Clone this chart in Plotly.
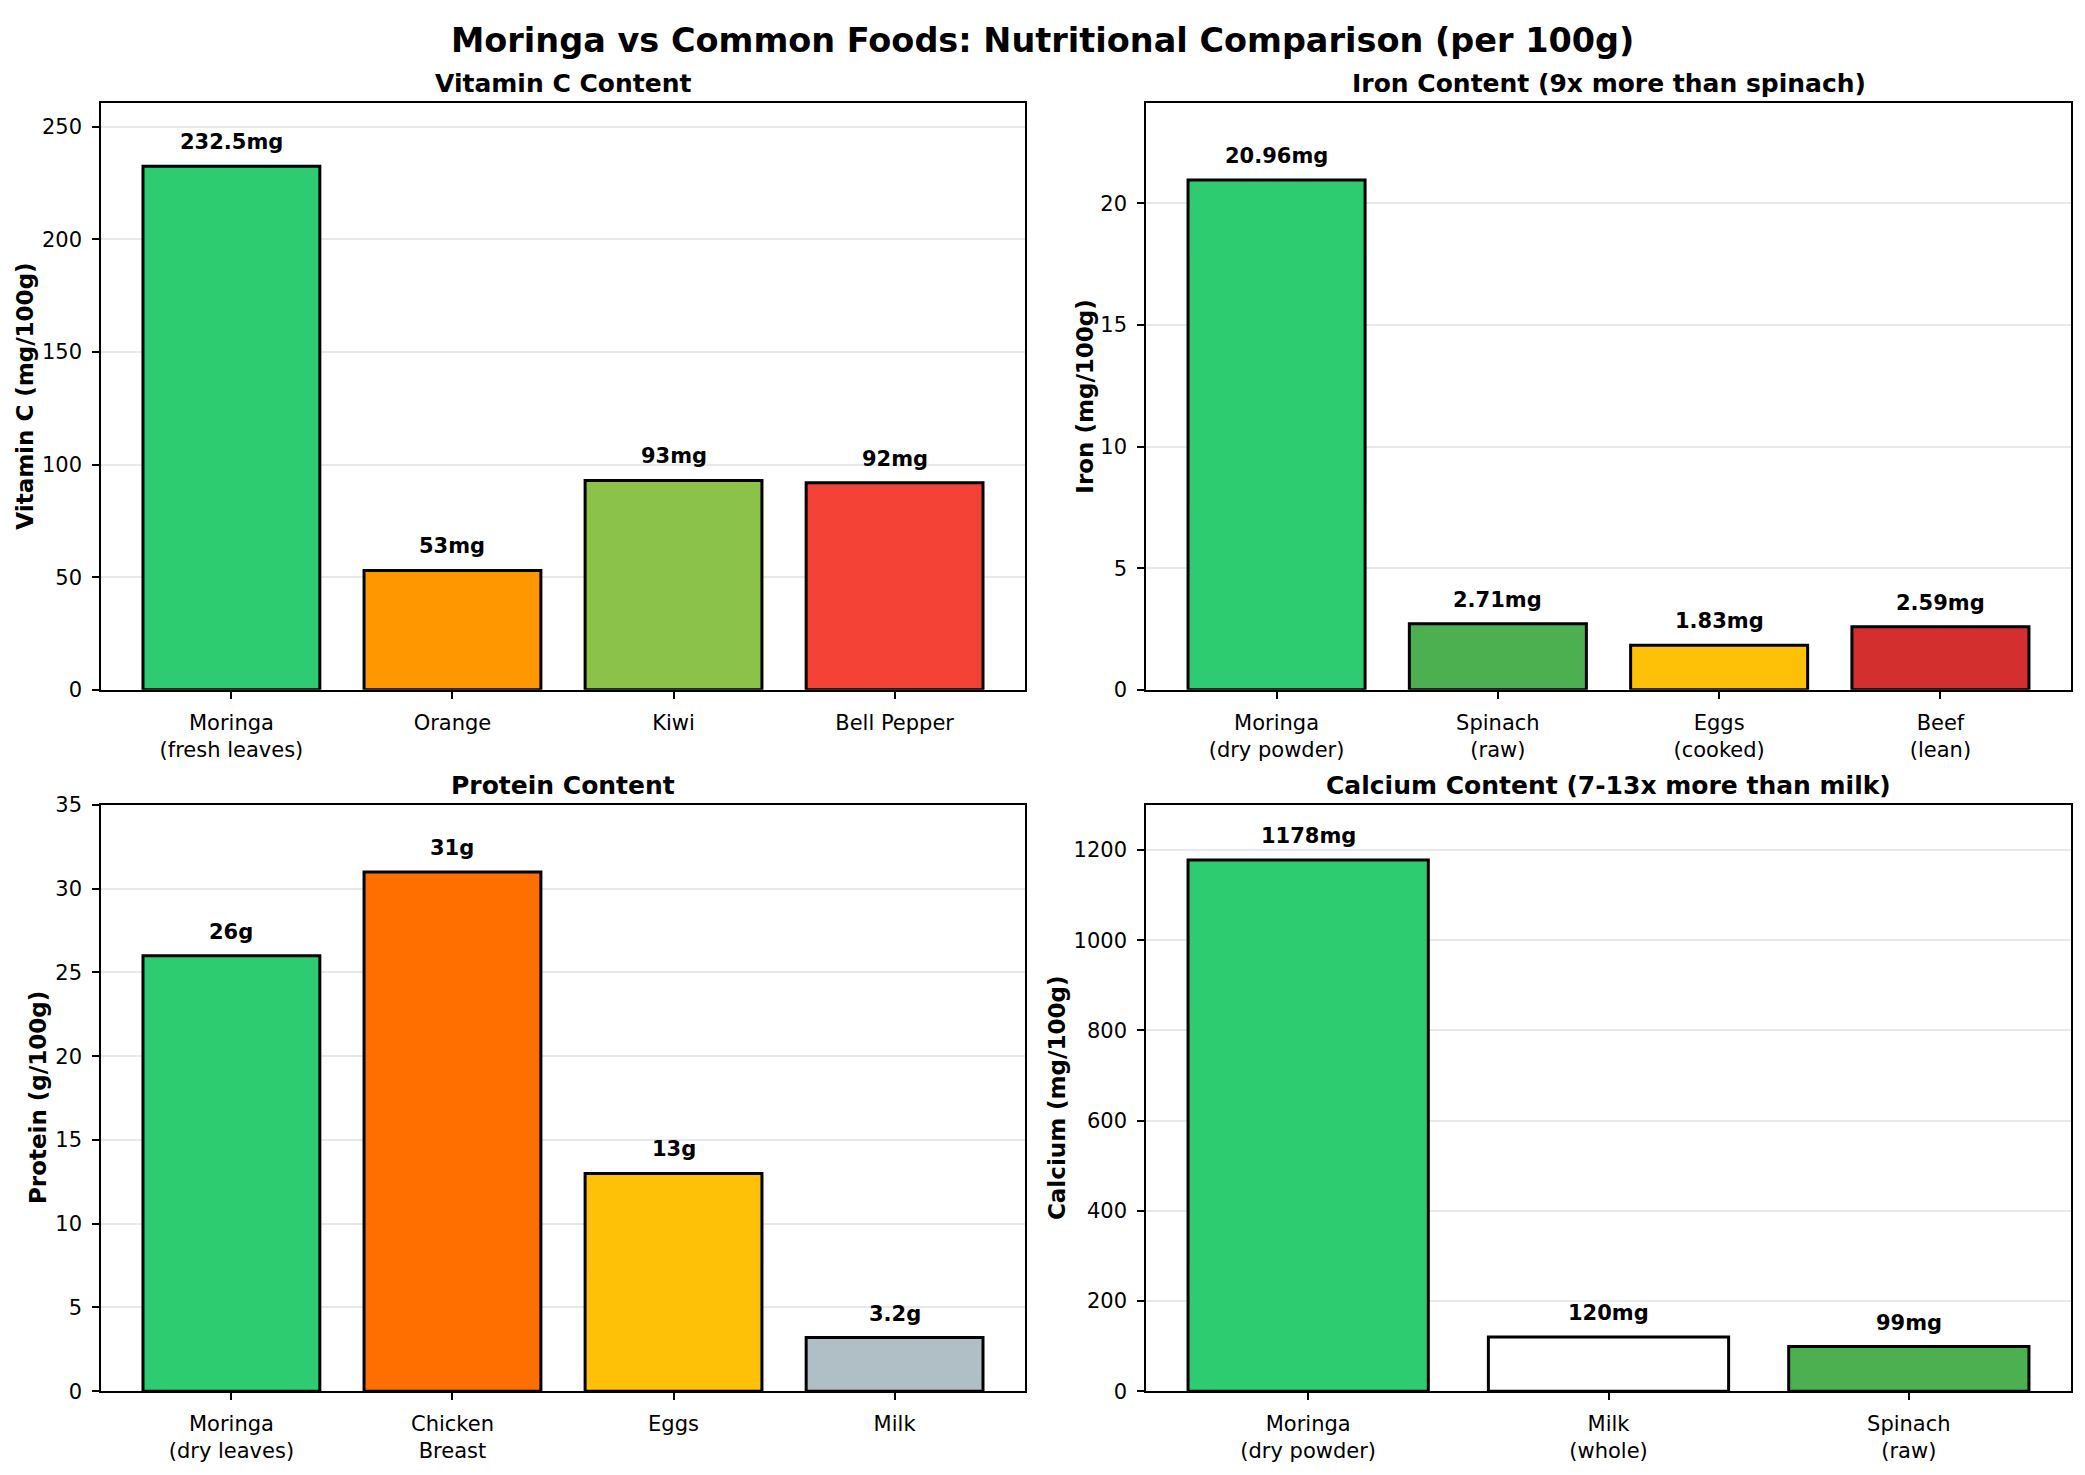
import plotly.graph_objects as go

W, H = 2085, 1475

# ---------------- data ----------------
vitc_foods = ["Moringa<br>(fresh leaves)", "Orange", "Kiwi", "Bell Pepper"]
vitc_values = [232.5, 53, 93, 92]
vitc_colors = ["#2ECC71", "#FF9800", "#8BC34A", "#F44336"]

iron_foods = ["Moringa<br>(dry powder)", "Spinach<br>(raw)", "Eggs<br>(cooked)", "Beef<br>(lean)"]
iron_values = [20.96, 2.71, 1.83, 2.59]
iron_colors = ["#2ECC71", "#4CAF50", "#FFC107", "#D32F2F"]

protein_foods = ["Moringa<br>(dry leaves)", "Chicken<br>Breast", "Eggs", "Milk"]
protein_values = [26, 31, 13, 3.2]
protein_colors = ["#2ECC71", "#FF6F00", "#FFC107", "#B0BEC5"]

calcium_foods = ["Moringa<br>(dry powder)", "Milk<br>(whole)", "Spinach<br>(raw)"]
calcium_values = [1178, 120, 99]
calcium_colors = ["#2ECC71", "#FFFFFF", "#4CAF50"]

panels = [
    dict(foods=vitc_foods, values=vitc_values, colors=vitc_colors, unit="mg",
         title="Vitamin C Content", ylabel="Vitamin C (mg/100g)", ymax=260.4, dtick=50,
         box=(101, 1025, 93, 689), ylab_x=25),
    dict(foods=iron_foods, values=iron_values, colors=iron_colors, unit="mg",
         title="Iron Content (9x more than spinach)", ylabel="Iron (mg/100g)", ymax=24.1, dtick=5,
         box=(1146, 2071, 93, 689), ylab_x=1085),
    dict(foods=protein_foods, values=protein_values, colors=protein_colors, unit="g",
         title="Protein Content", ylabel="Protein (g/100g)", ymax=35, dtick=5,
         box=(101, 1025, 806, 1402), ylab_x=38),
    dict(foods=calcium_foods, values=calcium_values, colors=calcium_colors, unit="mg",
         title="Calcium Content (7-13x more than milk)", ylabel="Calcium (mg/100g)", ymax=1300, dtick=200,
         box=(1146, 2071, 806, 1402), ylab_x=1057),
]

FONT = "DejaVu Sans"

def px_x(x):
    return x / W

def px_y(y):
    return 1 - y / H

fig = go.Figure()
annotations = []

for i, p in enumerate(panels):
    n = i + 1
    xa = "x" if n == 1 else f"x{n}"
    ya = "y" if n == 1 else f"y{n}"
    x0, x1, y0, y1 = p["box"]
    nb = len(p["foods"])
    pad = 0.05 * (nb - 1 + 0.8)
    fig.add_trace(go.Bar(
        x=p["foods"], y=p["values"], xaxis=xa, yaxis=ya,
        marker=dict(color=p["colors"], line=dict(color="black", width=3)),
        width=0.8, showlegend=False, hoverinfo="skip",
    ))
    axis_common = dict(showline=True, linecolor="black", linewidth=1.6, mirror=True,
                       ticks="outside", ticklen=7, tickwidth=1.6, tickcolor="black",
                       tickfont=dict(family=FONT, size=21, color="black"),
                       zeroline=False, ticklabelstandoff=6)
    fig.layout[f"xaxis{'' if n == 1 else n}"] = dict(
        domain=[px_x(x0), px_x(x1)], anchor=ya, type="category",
        range=[-0.4 - pad, nb - 1 + 0.4 + pad], showgrid=False, fixedrange=True,
        **axis_common)
    fig.layout[f"yaxis{'' if n == 1 else n}"] = dict(
        domain=[px_y(y1), px_y(y0)], anchor=xa, range=[0, p["ymax"]], dtick=p["dtick"],
        tick0=0, showgrid=True, gridcolor="#e8e8e8", gridwidth=1.6, fixedrange=True,
        **axis_common)
    # value labels
    for f, v in zip(p["foods"], p["values"]):
        annotations.append(dict(
            x=f, y=v, xref=xa, yref=ya, text=f"{v:g}{p['unit']}", showarrow=False,
            yanchor="middle", yshift=24,
            font=dict(family=FONT, size=21, color="black", weight="bold")))
    # subplot title
    annotations.append(dict(
        x=px_x((x0 + x1) / 2), y=px_y(y0 - 20), xref="paper", yref="paper",
        text=p["title"], showarrow=False, xanchor="center", yanchor="middle",
        font=dict(family=FONT, size=25, color="black", weight="bold")))
    # y axis label
    annotations.append(dict(
        x=px_x(p["ylab_x"]), y=px_y((y0 + y1) / 2), xref="paper", yref="paper",
        text=p["ylabel"], showarrow=False, textangle=-90, xanchor="center", yanchor="middle",
        font=dict(family=FONT, size=23, color="black", weight="bold")))

annotations.append(dict(
    x=px_x(1042), y=px_y(29), xref="paper", yref="paper",
    text="Moringa vs Common Foods: Nutritional Comparison (per 100g)", showarrow=False,
    xanchor="center", yanchor="middle",
    font=dict(family=FONT, size=33.5, color="black", weight="bold")))

fig.update_layout(
    width=W, height=H, margin=dict(l=0, r=0, t=0, b=0),
    paper_bgcolor="white", plot_bgcolor="white",
    annotations=annotations, bargap=0.2, showlegend=False,
    font=dict(family=FONT, color="black"),
)

fig.write_html("out.html")
